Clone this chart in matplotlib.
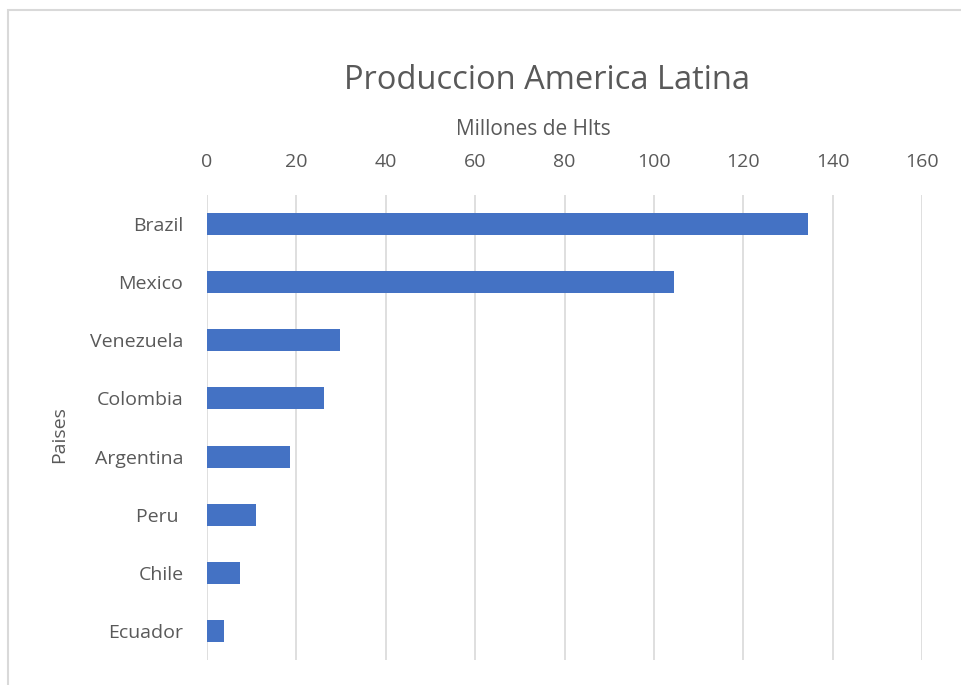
import matplotlib
matplotlib.use("Agg")
import matplotlib.pyplot as plt
from matplotlib.patches import Rectangle

paises = ["Brazil", "Mexico", "Venezuela", "Colombia", "Argentina", "Peru ", "Chile", "Ecuador"]
valores = [134.6, 104.6, 29.7, 26.2, 18.6, 11.0, 7.3, 3.7]
xticks = [0, 20, 40, 60, 80, 100, 120, 140, 160]

W, H = 961, 685
fig = plt.figure(figsize=(W / 100, H / 100), dpi=100)
plt.rcParams['font.family'] = ['Open Sans', 'DejaVu Sans']
txt = "#595959"

# chart frame
fig.patches.append(Rectangle((8 / W, -0.1), 1.2, (H - 10) / H + 0.1, transform=fig.transFigure,
                             fill=False, edgecolor="#d9d9d9", linewidth=1.5))

ax = fig.add_axes([207 / W, 1 - 660 / H, (922 - 207) / W, (660 - 195) / H])
y = list(range(len(paises)))
ax.barh(y, valores, height=0.38, color="#4472C4", zorder=3)
ax.set_ylim(len(paises) - 0.5, -0.5)
ax.set_xlim(0, 160)
ax.set_xticks(xticks)
ax.set_xticklabels([str(v) for v in xticks])
ax.xaxis.tick_top()
ax.set_yticks(y)
ax.set_yticklabels(paises)
ax.tick_params(axis="both", length=0, labelsize=14, colors=txt)
ax.tick_params(axis="x", pad=17)
ax.tick_params(axis="y", pad=17)
ax.grid(axis="x", color="#d9d9d9", linewidth=1.2, zorder=0)
for s in ax.spines.values():
    s.set_visible(False)

fig.text(547 / W, 1 - 89 / H, "Produccion America Latina", ha="center", va="baseline",
         fontsize=23.5, color=txt)
fig.text(533 / W, 1 - 135 / H, "Millones de Hlts", ha="center", va="baseline",
         fontsize=15, color=txt)
fig.text(59 / W, 1 - 435 / H, "Paises", ha="center", va="center", rotation=90,
         fontsize=14, color=txt)

fig.savefig("out.png", dpi=100)
